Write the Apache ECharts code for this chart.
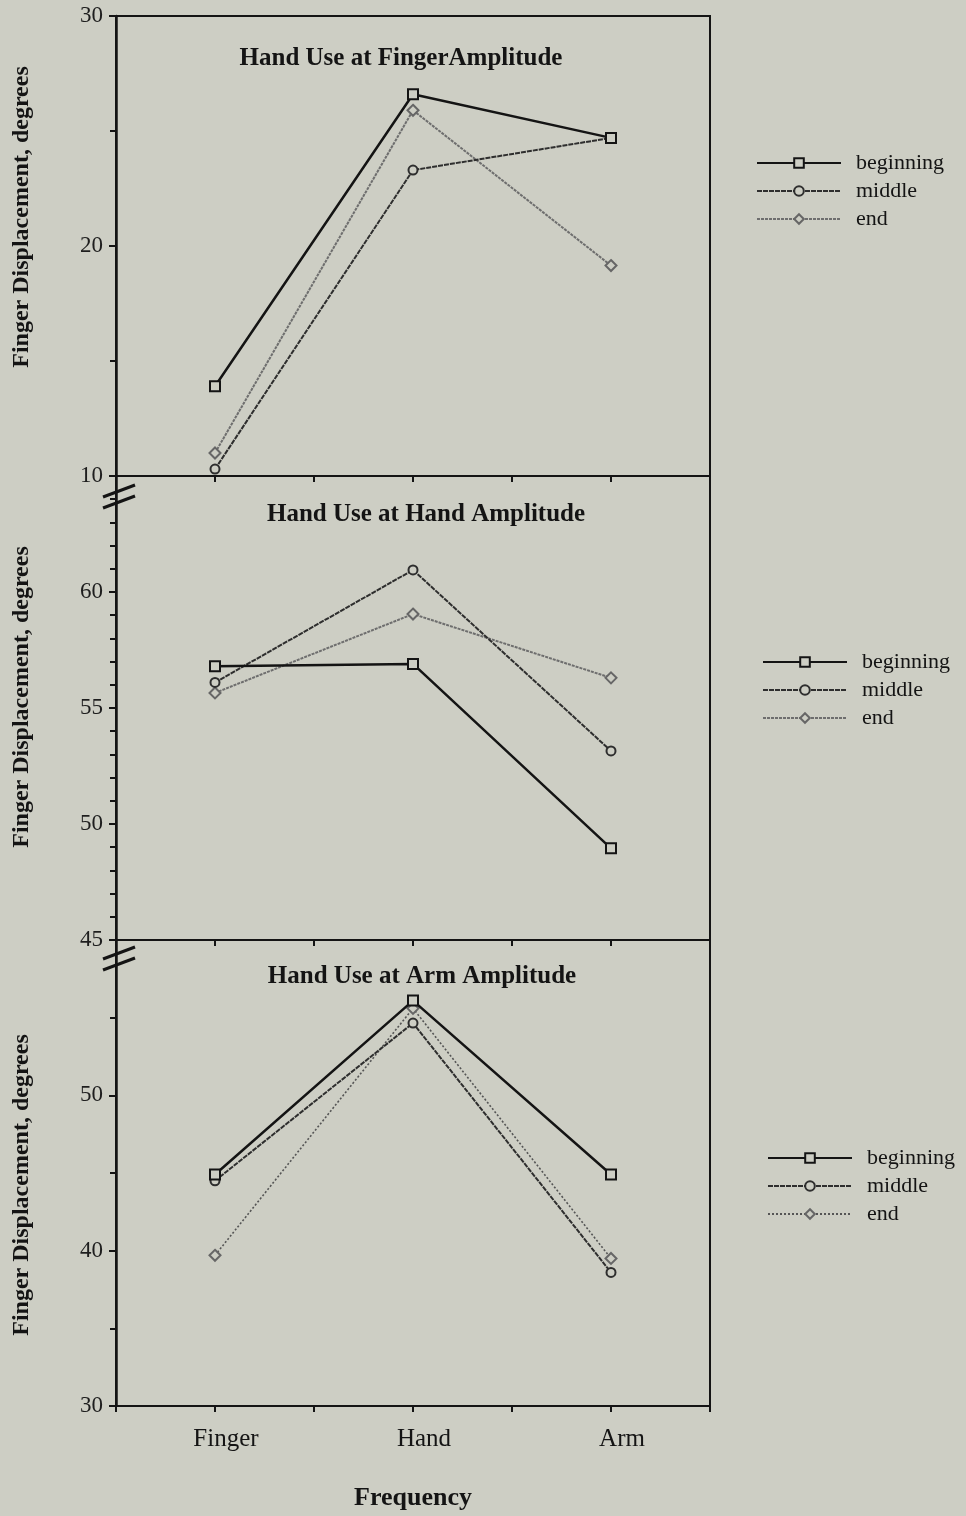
<!DOCTYPE html>
<html>
<head>
<meta charset="utf-8">
<script src="https://cdn.jsdelivr.net/npm/echarts@6/dist/echarts.min.js"></script>
<style>
  html, body { margin: 0; padding: 0; background: #cdcec4; }
  #main { width: 966px; height: 1516px; }
</style>
</head>
<body>
<div id="main"></div>
<script>
// frequency conditions on the x axis
var categories = ['Finger', 'Hand', 'Arm'];
var seriesNames = ['beginning', 'middle', 'end'];

// Hand Use at Finger Amplitude
var fingerBeginning = [13.9, 26.6, 24.7];
var fingerMiddle    = [10.3, 23.3, 24.7];
var fingerEnd       = [11.0, 25.9, 19.15];

// Hand Use at Hand Amplitude
var handBeginning = [56.8, 56.9, 48.95];
var handMiddle    = [56.1, 60.95, 53.15];
var handEnd       = [55.65, 59.05, 56.3];

// Hand Use at Arm Amplitude
var armBeginning = [44.9, 56.1, 44.9];
var armMiddle    = [44.5, 54.65, 38.6];
var armEnd       = [39.7, 55.6, 39.5];

var titles = ['Hand Use at FingerAmplitude', 'Hand Use at Hand Amplitude', 'Hand Use at Arm Amplitude'];
var yName = 'Finger Displacement, degrees';

var BG = '#cdcec4';
var INK = '#141414';
var SERIF = '"Liberation Serif", "DejaVu Serif", serif';

var panels = [
    { top: 16,  height: 460, min: 10, max: 30, interval: 10, minor: 2, data: [fingerBeginning, fingerMiddle, fingerEnd] },
    { top: 476, height: 464, min: 45, max: 65, interval: 5,  minor: 5, data: [handBeginning, handMiddle, handEnd] },
    { top: 940, height: 466, min: 30, max: 60, interval: 10, minor: 2, data: [armBeginning, armMiddle, armEnd] }
];

function toPoints(arr) {
    return arr.map(function (v, i) { return [i, v]; });
}

// styles per series (beginning / middle / end)
function lineStyleFor(k, p) {
    if (k == 0) return { color: INK, width: 2.5, type: 'solid' };
    if (k == 1) return { color: '#2e2e2e', width: 2, type: [5, 1] };
    if (p == 2) return { color: '#555', width: 1.6, type: [2, 2] };
    return { color: '#6e6e6e', width: 2, type: [3, 1] };
}
var symbols = ['rect', 'circle', 'diamond'];
var symbolSizes = [10, 9, 11];
var borderColors = [INK, '#2e2e2e', '#666'];

var grids = [], xAxes = [], yAxes = [], series = [], legends = [], titleOpts = [];
var legendPos = [
    { left: 756, top: 152 },
    { left: 762, top: 651 },
    { left: 767, top: 1147 }
];
var titlePos = [
    { left: 401, top: 46 },
    { left: 426, top: 502 },
    { left: 422, top: 964 }
];

panels.forEach(function (p, idx) {
    grids.push({
	left: 116, right: 256, top: p.top, height: p.height,
	show: true, borderColor: INK, borderWidth: 2, backgroundColor: 'transparent'
    });
    xAxes.push({
	type: 'value', gridIndex: idx,
	min: -0.5, max: 2.5, interval: 0.5,
	axisLine: { show: true, onZero: false, lineStyle: { color: INK, width: 2 } },
	axisTick: { show: true, inside: false, length: 6, lineStyle: { color: INK, width: 2 } },
	splitLine: { show: false },
	axisLabel: {
	    show: idx == 2,
	    margin: 21,
	    color: INK,
	    fontFamily: SERIF,
	    fontSize: 25,
	    padding: [0, 0, 0, 22],
	    formatter: function (v) {
		var i = Math.round(v);
		return Math.abs(v - i) < 1e-6 ? categories[i] : '';
	    }
	}
    });
    yAxes.push({
	type: 'value', gridIndex: idx,
	min: p.min, max: p.max, interval: p.interval,
	axisLine: { show: true, onZero: false, lineStyle: { color: INK, width: 2.5 } },
	axisTick: { show: true, inside: false, length: 7, lineStyle: { color: INK, width: 2 } },
	minorTick: { show: true, splitNumber: p.minor, length: 6, lineStyle: { color: INK, width: 2 } },
	splitLine: { show: false },
	axisLabel: {
	    color: '#1e1e1e', fontFamily: SERIF, fontSize: 23, margin: 13,
	    showMaxLabel: idx == 0
	}
    });
    var names = [];
    p.data.forEach(function (arr, k) {
	var nm = seriesNames[k] + '#' + idx;
	names.push(nm);
	series.push({
	    type: 'line', name: nm,
	    xAxisIndex: idx, yAxisIndex: idx,
	    data: toPoints(arr),
	    symbol: symbols[k], symbolSize: symbolSizes[k],
	    showSymbol: true,
	    lineStyle: lineStyleFor(k, idx),
	    itemStyle: { color: BG, borderColor: borderColors[k], borderWidth: 2 },
	    z: 5 - k
	});
    });
    legends.push({
	data: names,
	left: legendPos[idx].left, top: legendPos[idx].top,
	orient: 'vertical',
	padding: 0,
	itemWidth: 84, itemHeight: 12, itemGap: 6,
	selectedMode: false,
	formatter: function (name) { return name.split('#')[0]; },
	textStyle: { color: INK, fontFamily: SERIF, fontSize: 22, lineHeight: 21, padding: [0, 0, 0, 10] }
    });
    titleOpts.push({
	text: titles[idx],
	left: titlePos[idx].left, top: titlePos[idx].top,
	textAlign: 'center',
	padding: 0,
	textStyle: { color: INK, fontFamily: SERIF, fontSize: 25, fontWeight: 'bold' }
    });
});

// y axis names and the axis break marks
var graphics = [];
[217, 697, 1185].forEach(function (cy) {
    graphics.push({
	type: 'text', x: 22, y: cy, rotation: Math.PI / 2,
	style: {
	    text: yName, fill: INK, font: 'bold 24px ' + SERIF,
	    align: 'center', verticalAlign: 'middle'
	}
    });
});
[[491, 502], [953, 964]].forEach(function (pair) {
    pair.forEach(function (cy) {
	graphics.push({
	    type: 'line',
	    shape: { x1: 103, y1: cy + 6, x2: 135, y2: cy - 6 },
	    style: { stroke: INK, lineWidth: 3 }
	});
    });
});
graphics.push({
    type: 'text', x: 413, y: 1498,
    style: {
	text: 'Frequency', fill: INK, font: 'bold 26px ' + SERIF,
	align: 'center', verticalAlign: 'middle'
    }
});

var option = {
    backgroundColor: BG,
    animation: false,
    title: titleOpts,
    legend: legends,
    grid: grids,
    xAxis: xAxes,
    yAxis: yAxes,
    series: series,
    graphic: graphics
};

var chart = echarts.init(document.getElementById('main'));
chart.setOption(option);
</script>
</body>
</html>
